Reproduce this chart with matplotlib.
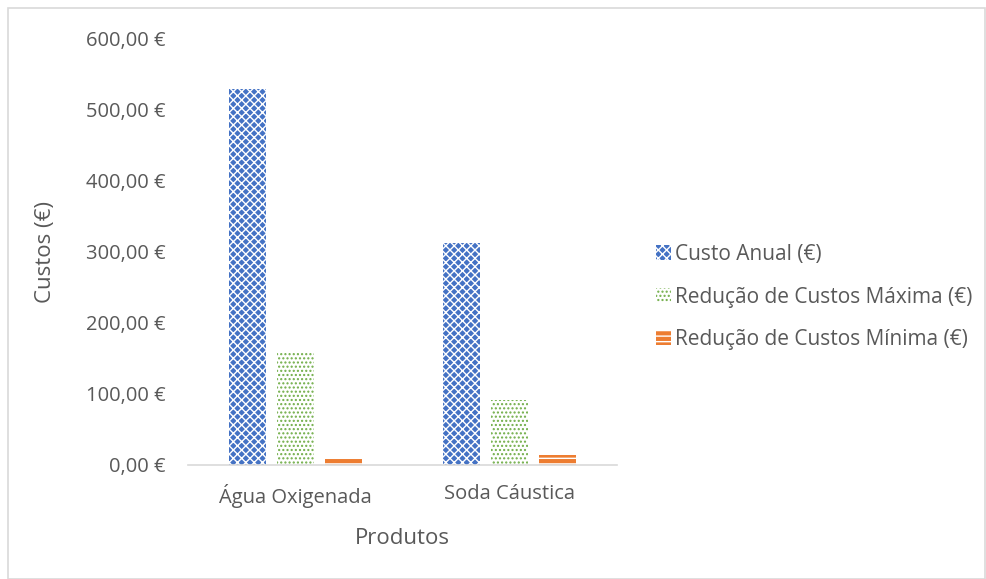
import matplotlib
matplotlib.use("Agg")
import matplotlib.pyplot as plt
from matplotlib.patches import Rectangle
from matplotlib.ticker import FuncFormatter
import numpy as np

plt.rcParams["font.family"] = ["Open Sans", "DejaVu Sans"]
plt.rcParams["hatch.linewidth"] = 1.0

categories = ["Água Oxigenada", "Soda Cáustica"]
series_names = ["Custo Anual (€)", "Redução de Custos Máxima (€)", "Redução de Custos Mínima (€)"]
custo_anual = [529.0, 312.0]
reducao_maxima = [159.0, 92.0]
reducao_minima = [10.0, 14.0]
y_ticks = [0, 100, 200, 300, 400, 500, 600]

TEXT = "#595959"
styles = [
    dict(facecolor="#4472C4", edgecolor="white", hatch="xxxx"),
    dict(facecolor="white", edgecolor="#70AD47", hatch="...."),
    dict(facecolor="#ED7D31", edgecolor="white", hatch="---"),
]

fig = plt.figure(figsize=(9.87, 5.79), dpi=100)
fig.patches.append(Rectangle((0.008, 0.0), 0.99, 0.986, transform=fig.transFigure,
                             facecolor="none", edgecolor="#d9d9d9", linewidth=1.2))
ax = fig.add_axes([0.1905, 0.1969, 0.4347, 0.7358])

x = np.arange(len(categories))
width = 0.173
step = 0.224
for i, (vals, name, st) in enumerate(zip([custo_anual, reducao_maxima, reducao_minima], series_names, styles)):
    ax.bar(x + (i - 1) * step, vals, width, label=name, linewidth=0, **st)

ax.set_xlim(-0.5, 1.5)
ax.set_ylim(0, 600)
ax.set_yticks(y_ticks)
ax.yaxis.set_major_formatter(FuncFormatter(lambda v, _: f"{v:.2f}".replace(".", ",") + " €"))
ax.set_xticks(x)
ax.set_xticklabels(categories)
for s in ["top", "right", "left"]:
    ax.spines[s].set_visible(False)
ax.spines["bottom"].set_color("#d9d9d9")
ax.spines["bottom"].set_linewidth(1.2)
ax.tick_params(axis="both", length=0, labelsize=14.5, labelcolor=TEXT)
ax.tick_params(axis="y", pad=16)
ax.tick_params(axis="x", pad=14)
ax.set_xlabel("Produtos", fontsize=16, color=TEXT, labelpad=14)
ax.set_ylabel("Custos (€)", fontsize=16, color=TEXT, labelpad=22)

ax.legend(loc="center left", bbox_to_anchor=(0.665, 0.487), bbox_transform=fig.transFigure,
          frameon=False, fontsize=15, labelcolor=TEXT, handlelength=0.7, handleheight=0.7,
          handletextpad=0.2, labelspacing=1.05, borderaxespad=0, borderpad=0)

fig.savefig("out.png", dpi=100)
